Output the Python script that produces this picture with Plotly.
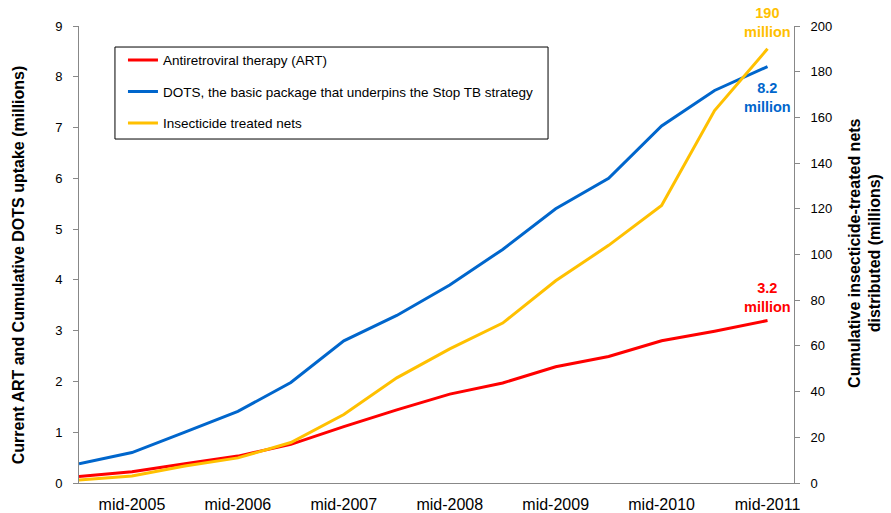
import plotly.graph_objects as go

# Half-yearly reporting points (end-2004 ... mid-2011); only the mid-year points are labelled
periods = ["end-2004", "mid-2005", "end-2005", "mid-2006", "end-2006", "mid-2007", "end-2007",
           "mid-2008", "end-2008", "mid-2009", "end-2009", "mid-2010", "end-2010", "mid-2011"]
tick_labels = ["mid-2005", "mid-2006", "mid-2007", "mid-2008", "mid-2009", "mid-2010", "mid-2011"]

# Millions of people (left axis)
art = [0.13, 0.22, 0.38, 0.53, 0.76, 1.11, 1.44, 1.75, 1.97, 2.29, 2.49, 2.80, 2.99, 3.2]
dots = [0.38, 0.60, 1.00, 1.41, 1.98, 2.80, 3.30, 3.90, 4.60, 5.40, 6.00, 7.03, 7.73, 8.2]
# Millions of nets (right axis)
itn = [1.3, 3.1, 7.4, 11.0, 17.7, 30.0, 46.0, 58.7, 70.0, 88.5, 104.0, 121.5, 163.0, 190.0]

RED = "#FF0000"
BLUE = "#0066CC"
GOLD = "#FFC000"
FONT = "Arial, Liberation Sans, sans-serif"

x = list(range(len(periods)))
tickvals = [periods.index(t) for t in tick_labels]

fig = go.Figure()
fig.add_trace(go.Scatter(x=x, y=art, mode="lines", name="Antiretroviral therapy (ART)",
                         line=dict(color=RED, width=3), legendgroup="a", text=periods))
fig.add_trace(go.Scatter(x=x, y=dots, mode="lines",
                         name="DOTS, the basic package that underpins the Stop TB strategy",
                         line=dict(color=BLUE, width=3), legendgroup="b", text=periods))
fig.add_trace(go.Scatter(x=x, y=itn, mode="lines", name="Insecticide treated nets",
                         line=dict(color=GOLD, width=3), legendgroup="c", yaxis="y2", text=periods))

last = len(periods) - 1
annots = [
    dict(x=last, y=itn[-1], yref="y2", text="<b>190<br>million</b>", font=dict(color=GOLD, size=14.5),
         yanchor="bottom", yshift=7),
    dict(x=last, y=dots[-1], yref="y", text="<b>8.2<br>million</b>", font=dict(color=BLUE, size=14.5),
         yanchor="top", yshift=-11),
    dict(x=last, y=art[-1], yref="y", text="<b>3.2<br>million</b>", font=dict(color=RED, size=14.5),
         yanchor="bottom", yshift=4),
]
for a in annots:
    a.update(xref="x", showarrow=False, xanchor="center", align="center")
    a["font"]["family"] = FONT

# Axis titles
annots.append(dict(xref="paper", yref="paper", x=-0.085, y=0.477, textangle=-90, showarrow=False,
                   text="<b>Current ART and Cumulative DOTS uptake (millions)</b>",
                   font=dict(size=16, color="black", family=FONT), xanchor="center", yanchor="middle"))
annots.append(dict(xref="paper", yref="paper", x=1.099, y=0.503, textangle=-90, showarrow=False,
                   text="<b>Cumulative insecticide-treated nets<br>distributed (millions)</b>",
                   font=dict(size=16, color="black", family=FONT), xanchor="center", yanchor="middle"))

# Frame around the legend
legend_frame = dict(type="rect", xref="paper", yref="paper", x0=0.0503, x1=0.656, y0=0.7527, y1=0.954,
                    line=dict(color="black", width=1), fillcolor="white", layer="below")

fig.update_layout(
    width=891, height=513,
    margin=dict(l=79, r=97, t=26, b=30),
    paper_bgcolor="white", plot_bgcolor="white",
    font=dict(family=FONT, color="black"),
    showlegend=True,
    legend=dict(x=0.0615, y=0.959, xanchor="left", yanchor="top",
                borderwidth=0, bgcolor="rgba(0,0,0,0)",
                font=dict(size=13.5, family=FONT), tracegroupgap=11),
    shapes=[legend_frame],
    xaxis=dict(range=[0, 13.5], tickvals=tickvals, ticktext=tick_labels, showgrid=False,
               zeroline=False, showline=True, linecolor="#888888", linewidth=1, ticks="",
               tickfont=dict(size=16), ticklabelstandoff=7, automargin=False),
    yaxis=dict(range=[0, 9], dtick=1, showgrid=False, zeroline=False, showline=True,
               linecolor="#888888", linewidth=1, ticks="outside", ticklen=5, tickcolor="#888888",
               tickfont=dict(size=13), ticklabelstandoff=8, automargin=False),
    yaxis2=dict(range=[0, 200], dtick=20, overlaying="y", side="right", showgrid=False,
                zeroline=False, showline=True, linecolor="#888888", linewidth=1, ticks="outside",
                ticklen=5, tickcolor="#888888", tickfont=dict(size=13), ticklabelstandoff=8,
                automargin=False),
    annotations=annots,
)

fig.write_html("out.html")
